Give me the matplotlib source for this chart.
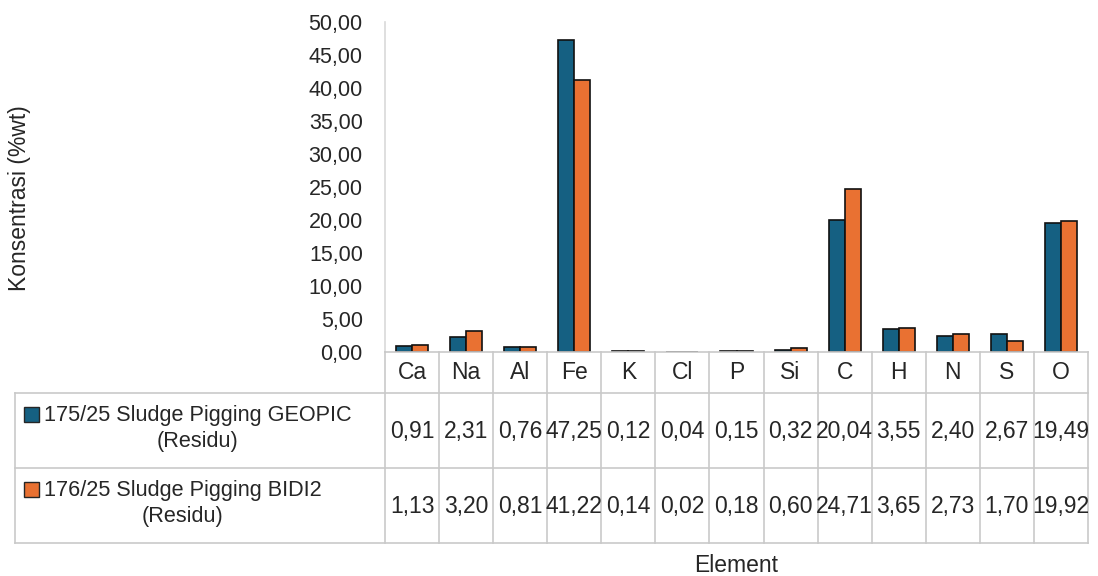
import matplotlib
matplotlib.use("Agg")
import matplotlib.pyplot as plt
from matplotlib.lines import Line2D
from matplotlib.patches import Rectangle

plt.rcParams['font.family'] = ['Liberation Sans', 'DejaVu Sans']

# Hasil analisis unsur (%wt)
elements = ['Ca', 'Na', 'Al', 'Fe', 'K', 'Cl', 'P', 'Si', 'C', 'H', 'N', 'S', 'O']
geopic = [0.91, 2.31, 0.76, 47.25, 0.12, 0.04, 0.15, 0.32, 20.04, 3.55, 2.40, 2.67, 19.49]
bidi2 = [1.13, 3.20, 0.81, 41.22, 0.14, 0.02, 0.18, 0.60, 24.71, 3.65, 2.73, 1.70, 19.92]
series_names = ['175/25 Sludge Pigging GEOPIC\n(Residu)', '176/25 Sludge Pigging BIDI2\n(Residu)']
y_ticks = [0, 5, 10, 15, 20, 25, 30, 35, 40, 45, 50]

colors = ['#156082', '#E97132']
grid_col = '#C9C9C9'
txt_col = '#262626'
fs_tick = 15.5
fs_tbl = 16.5
fs_lab = 16.5
fs_leg = 15.6

W, H = 1098, 576
fig = plt.figure(figsize=(W / 100, H / 100), dpi=100)

# pixel layout
x0, x1 = 385, 1088          # plot area left/right
ytop, ybot = 22, 352        # value 50 and value 0
row_lines = [352, 393, 468, 543]
tbl_left = 15
cw = (x1 - x0) / len(elements)


def fx(px):
    return px / W


def fy(py):
    return 1 - py / H


def fmt(v):
    return f'{v:.2f}'.replace('.', ',')


ax = fig.add_axes([fx(x0), fy(ybot), fx(x1) - fx(x0), fy(ytop) - fy(ybot)])
idx = range(len(elements))
bw = 0.296
ax.bar([i - bw / 2 for i in idx], geopic, width=bw, color=colors[0], edgecolor='#111111', linewidth=1.2)
ax.bar([i + bw / 2 for i in idx], bidi2, width=bw, color=colors[1], edgecolor='#111111', linewidth=1.2)
ax.set_xlim(-0.5, len(elements) - 0.5)
ax.set_ylim(0, 50)
ax.set_yticks(y_ticks)
ax.set_yticklabels([fmt(v) for v in y_ticks], fontsize=fs_tick, color=txt_col)
ax.tick_params(axis='y', length=0, pad=16)
ax.set_xticks([])
for s in ['top', 'right']:
    ax.spines[s].set_visible(False)
ax.spines['left'].set_color('#D9D9D9')
ax.spines['left'].set_linewidth(1.2)
ax.spines['bottom'].set_color(grid_col)
ax.spines['bottom'].set_linewidth(1.2)
ax.patch.set_alpha(0)

# data table under the chart, drawn in pixel coordinates
tx = fig.add_axes([0, 0, 1, 1])
tx.set_xlim(0, W)
tx.set_ylim(H, 0)
tx.axis('off')
tx.patch.set_alpha(0)

lw = 1.2
for y in row_lines[1:]:
    tx.add_line(Line2D([tbl_left, x1], [y, y], color=grid_col, lw=lw))
tx.add_line(Line2D([tbl_left, tbl_left], [row_lines[1], row_lines[-1]], color=grid_col, lw=lw))
for i in range(len(elements) + 1):
    xx = x0 + i * cw
    tx.add_line(Line2D([xx, xx], [row_lines[0], row_lines[-1]], color=grid_col, lw=lw))

for i, el in enumerate(elements):
    cx = x0 + (i + 0.5) * cw
    tx.text(cx, (row_lines[0] + row_lines[1]) / 2, el, ha='center', va='center', fontsize=fs_tbl, color=txt_col)
    for r, vals in enumerate([geopic, bidi2]):
        cy = (row_lines[r + 1] + row_lines[r + 2]) / 2
        tx.text(cx, cy + 1, fmt(vals[i]), ha='center', va='center', fontsize=fs_tbl, color=txt_col)

for r, name in enumerate(series_names):
    cy = (row_lines[r + 1] + row_lines[r + 2]) / 2
    tx.add_patch(Rectangle((24, cy - 24), 15, 15, facecolor=colors[r], edgecolor=txt_col, lw=1.0))
    tx.text(44, cy - 2, name, ha='left', va='center', multialignment='center',
            fontsize=fs_leg, color=txt_col, linespacing=1.36)

tx.text((x0 + x1) / 2, 565, 'Element', ha='center', va='center', fontsize=fs_lab, color=txt_col)
tx.text(20, 198, 'Konsentrasi (%wt)', ha='center', va='center', rotation=90, fontsize=fs_lab, color=txt_col)

fig.savefig('out.png', dpi=100)
